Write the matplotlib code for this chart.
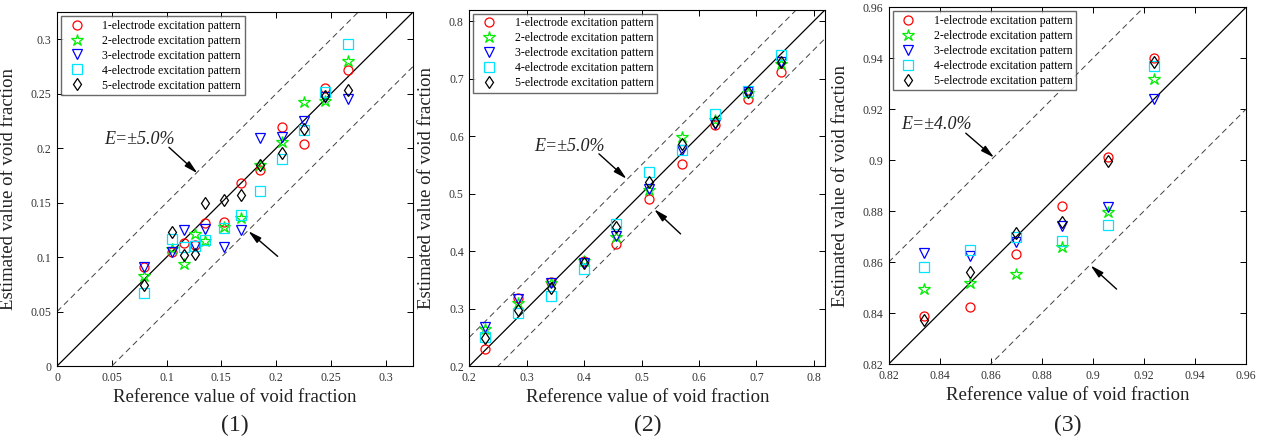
import matplotlib
matplotlib.use("Agg")
import matplotlib.pyplot as plt

plt.rcParams['font.family'] = ['Liberation Serif', 'DejaVu Serif']

labels = ['1-electrode excitation pattern', '2-electrode excitation pattern',
          '3-electrode excitation pattern', '4-electrode excitation pattern',
          '5-electrode excitation pattern']
markers = ['o', '*', 'v', 's', 'd']
colors = ['#ff0000', '#00ee00', '#0000ff', '#00e5ff', '#000000']

# panel (1)
ref1 = [0.079, 0.105, 0.116, 0.126, 0.135, 0.152, 0.168, 0.185, 0.205, 0.225, 0.245, 0.266]
est1 = [
    [0.091, 0.105, 0.113, 0.111, 0.131, 0.132, 0.168, 0.180, 0.219, 0.204, 0.255, 0.272],
    [0.083, 0.107, 0.094, 0.121, 0.115, 0.128, 0.136, 0.185, 0.206, 0.242, 0.243, 0.280],
    [0.091, 0.105, 0.125, 0.110, 0.126, 0.109, 0.125, 0.209, 0.210, 0.225, 0.247, 0.245],
    [0.067, 0.117, 0.109, 0.110, 0.116, 0.127, 0.139, 0.161, 0.190, 0.217, 0.252, 0.296],
    [0.074, 0.123, 0.102, 0.103, 0.150, 0.152, 0.157, 0.185, 0.196, 0.218, 0.248, 0.253],
]

# panel (2)
ref2 = [0.228, 0.285, 0.342, 0.399, 0.456, 0.513, 0.570, 0.627, 0.685, 0.742]
est2 = [
    [0.230, 0.318, 0.347, 0.383, 0.412, 0.490, 0.552, 0.620, 0.665, 0.712],
    [0.265, 0.309, 0.345, 0.382, 0.424, 0.506, 0.598, 0.628, 0.675, 0.726],
    [0.268, 0.317, 0.345, 0.380, 0.426, 0.508, 0.576, 0.621, 0.676, 0.729],
    [0.251, 0.292, 0.322, 0.368, 0.447, 0.537, 0.575, 0.639, 0.679, 0.741],
    [0.248, 0.297, 0.335, 0.379, 0.442, 0.520, 0.586, 0.625, 0.676, 0.728],
]

# panel (3)
ref3 = [0.834, 0.852, 0.870, 0.888, 0.906, 0.924]
est3 = [
    [0.839, 0.8425, 0.8633, 0.8821, 0.9014, 0.9403],
    [0.8494, 0.8518, 0.8554, 0.8661, 0.8797, 0.932],
    [0.8635, 0.8622, 0.8677, 0.874, 0.8816, 0.9239],
    [0.8579, 0.8646, 0.870, 0.8682, 0.8746, 0.9371],
    [0.8374, 0.8563, 0.8714, 0.8756, 0.8997, 0.9384],
]

panels = [
    dict(ref=ref1, est=est1, lim=(0, 0.325), ticks=[0, 0.05, 0.1, 0.15, 0.2, 0.25, 0.3],
         tl=['0', '0.05', '0.1', '0.15', '0.2', '0.25', '0.3'], err=0.05, etxt='E=±5.0%',
         txt=(0.0427, 0.2084), up=((0.1022, 0.2008), (0.1282, 0.177)),
         lo=((0.2014, 0.1007), (0.1746, 0.1239)), name='(1)',
         pos=[0.0452, 0.170, 0.2821, 0.8027], ylx=-0.112),
    dict(ref=ref2, est=est2, lim=(0.2, 0.82), ticks=[0.2, 0.3, 0.4, 0.5, 0.6, 0.7, 0.8],
         tl=['0.2', '0.3', '0.4', '0.5', '0.6', '0.7', '0.8'], err=0.05, etxt='E=±5.0%',
         txt=(0.3126, 0.5818), up=((0.4257, 0.569), (0.4739, 0.5255)),
         lo=((0.5679, 0.4298), (0.522, 0.4727)), name='(2)',
         pos=[0.3719, 0.170, 0.2821, 0.8084], ylx=-0.096),
    dict(ref=ref3, est=est3, lim=(0.82, 0.96), ticks=[0.82, 0.84, 0.86, 0.88, 0.9, 0.92, 0.94, 0.96],
         tl=['0.82', '0.84', '0.86', '0.88', '0.9', '0.92', '0.94', '0.96'], err=0.04, etxt='E=±4.0%',
         txt=(0.8248, 0.9139), up=((0.8502, 0.9106), (0.8613, 0.901)),
         lo=((0.9093, 0.8494), (0.8991, 0.8587)), name='(3)',
         pos=[0.7042, 0.1746, 0.2831, 0.8088], ylx=-0.111),
]

fig = plt.figure(figsize=(12.62, 4.41), dpi=100)

for p in panels:
    ax = fig.add_axes(p['pos'])
    lo_, hi_ = p['lim']
    ax.plot([lo_, hi_], [lo_, hi_], color='k', lw=0.9)
    ax.plot([lo_, hi_], [lo_ + p['err'], hi_ + p['err']], color='0.25', lw=0.7, ls=(0, (6, 4)))
    ax.plot([lo_, hi_], [lo_ - p['err'], hi_ - p['err']], color='0.25', lw=0.7, ls=(0, (6, 4)))
    for k in range(5):
        ms = 9 if markers[k] == '*' else 6.5
        ax.plot(p['ref'], p['est'][k], ls='none', marker=markers[k], ms=ms,
                mfc='none', mec=colors[k], mew=0.9, label=labels[k])
    ax.set_xlim(lo_, hi_)
    ax.set_ylim(lo_, hi_)
    ax.set_xticks(p['ticks'])
    ax.set_xticklabels(p['tl'])
    ax.set_yticks(p['ticks'])
    ax.set_yticklabels(p['tl'])
    ax.tick_params(direction='in', top=True, right=True, length=4, width=0.7,
                   labelsize=8.5, labelcolor='#333333', pad=4)
    for s in ax.spines.values():
        s.set_linewidth(0.8)
    ax.set_xlabel('Reference value of void fraction', fontsize=13.5, color='#222222', labelpad=4)
    ax.set_ylabel('Estimated value of void fraction', fontsize=13.5, color='#222222')
    ax.yaxis.set_label_coords(p['ylx'], 0.5)
    ax.text(p['txt'][0], p['txt'][1], p['etxt'], fontsize=13, style='italic',
            va='center', ha='left', color='#222222')
    for tail, tip in (p['up'], p['lo']):
        ax.annotate('', xy=tip, xytext=tail,
                    arrowprops=dict(arrowstyle='-|>,head_length=0.8,head_width=0.2',
                                    color='k', lw=1.0, shrinkA=0, shrinkB=0))
    leg = ax.legend(loc='upper left', fontsize=8.5, numpoints=1, frameon=True,
                    fancybox=False, edgecolor='#444444', borderaxespad=0.35,
                    handletextpad=1.2, labelspacing=0.25, borderpad=0.3,
                    handlelength=2.0)
    leg.get_frame().set_linewidth(1.0)
    bb = p['pos']
    fig.text(bb[0] + bb[2] / 2, 0.036, p['name'], fontsize=17, ha='center', va='center',
             color='#222222')

fig.savefig('out.png', dpi=100)
